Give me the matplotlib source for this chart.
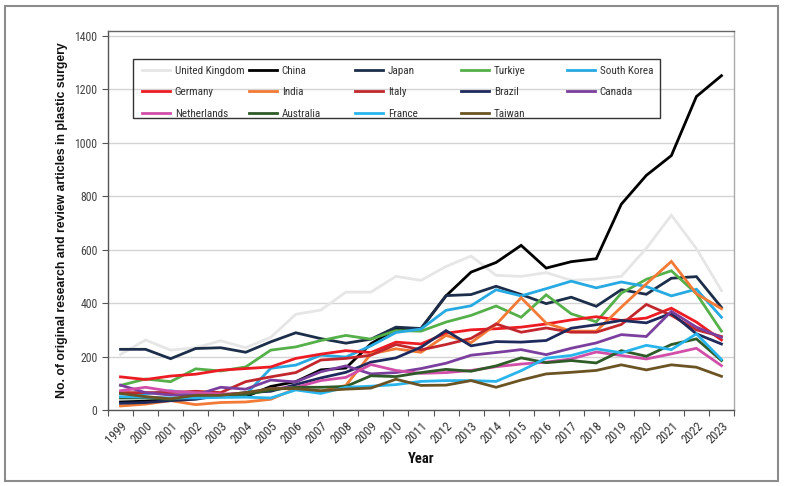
import matplotlib
matplotlib.use('Agg')
import matplotlib.pyplot as plt
import matplotlib.font_manager as fm
from matplotlib.patches import Rectangle
from matplotlib.legend import Legend
import numpy as np

# ── Fonts: condensed face for ticks/legend, plain sans bold for y label ──
names = {f.name for f in fm.fontManager.ttflist}
NARROW = next((f for f in ['Liberation Sans Narrow', 'Roboto Condensed',
                           'Open Sans Condensed', 'DejaVu Sans Condensed',
                           'Liberation Sans'] if f in names), 'DejaVu Sans')
SANS = 'Liberation Sans' if 'Liberation Sans' in names else 'DejaVu Sans'
plt.rcParams['font.family'] = [NARROW, 'DejaVu Sans']

# ── Data ──────────────────────────────────────────────────────────────────
years = list(range(1999, 2024))

uk          = [208, 262, 224, 233, 259, 233, 272, 358, 374, 441, 441, 500, 485,
               537, 576, 504, 500, 514, 485, 490, 500, 605, 729, 604, 447]
china       = [30, 33, 38, 50, 55, 50, 88, 106, 150, 157, 248, 302, 304,
               427, 516, 552, 616, 531, 555, 566, 770, 878, 952, 1173, 1251]
japan       = [227, 227, 192, 230, 233, 216, 255, 289, 267, 250, 265, 310, 305,
               428, 432, 463, 432, 398, 422, 388, 450, 433, 493, 499, 384]
turkiye     = [92, 116, 106, 154, 146, 161, 224, 236, 260, 279, 265, 297, 295,
               329, 354, 389, 347, 431, 360, 330, 437, 489, 521, 435, 295]
south_korea = [62, 60, 72, 60, 55, 58, 156, 168, 205, 198, 240, 290, 303,
               373, 390, 450, 427, 454, 482, 457, 479, 462, 427, 452, 347]
germany     = [124, 114, 127, 134, 149, 155, 161, 193, 209, 222, 215, 254, 247,
               287, 300, 304, 310, 322, 337, 349, 335, 344, 381, 329, 262]
india       = [15, 22, 35, 20, 28, 30, 40, 80, 70, 92, 210, 229, 216,
               279, 252, 320, 420, 325, 295, 295, 385, 472, 556, 435, 379]
italy       = [65, 65, 65, 70, 65, 106, 124, 140, 187, 193, 205, 245, 225,
               245, 268, 322, 291, 307, 291, 291, 320, 395, 354, 300, 275]
brazil      = [25, 28, 35, 40, 55, 65, 70, 95, 120, 141, 179, 195, 235,
               297, 240, 256, 254, 260, 306, 319, 335, 326, 362, 285, 247]
canada      = [93, 65, 56, 56, 85, 78, 112, 105, 143, 165, 135, 140, 155,
               175, 205, 215, 226, 207, 231, 251, 282, 275, 369, 310, 272]
netherlands = [72, 85, 70, 65, 60, 62, 80, 85, 110, 122, 170, 148, 137,
               140, 148, 162, 172, 179, 191, 217, 204, 191, 210, 231, 166]
australia   = [45, 45, 40, 50, 55, 58, 75, 85, 85, 88, 128, 125, 140,
               152, 145, 165, 195, 177, 185, 176, 222, 201, 245, 266, 185]
france      = [50, 48, 45, 45, 47, 48, 45, 75, 62, 85, 89, 95, 107,
               110, 110, 107, 147, 194, 204, 229, 214, 242, 226, 285, 189]
taiwan      = [62, 50, 42, 55, 55, 65, 80, 80, 72, 78, 82, 115, 92,
               93, 110, 85, 112, 135, 141, 148, 169, 150, 169, 160, 126]

# label, values, colour  (row-wise legend order of the reference)
series = [
    ("United Kingdom", uk,          "#e6e6e6"),
    ("China",          china,       "#000000"),
    ("Japan",          japan,       "#1c2e4a"),
    ("Turkiye",        turkiye,     "#55b04a"),
    ("South Korea",    south_korea, "#27a9e1"),
    ("Germany",        germany,     "#ed1c24"),
    ("India",          india,       "#f37a36"),
    ("Italy",          italy,       "#c1272d"),
    ("Brazil",         brazil,      "#1f2a5c"),
    ("Canada",         canada,      "#7b3f9e"),
    ("Netherlands",    netherlands, "#d14fa8"),
    ("Australia",      australia,   "#2e5b27"),
    ("France",         france,      "#29b5ec"),
    ("Taiwan",         taiwan,      "#6b5323"),
]

# ── Figure ────────────────────────────────────────────────────────────────
fig = plt.figure(figsize=(7.86, 4.86), dpi=100, facecolor='white')
ax = fig.add_axes([0.1374, 0.1564, 0.7964, 0.7808])

x = np.arange(len(years))
handles = []
for label, vals, col in series:
    ln, = ax.plot(x, vals, color=col, lw=2.0, solid_joinstyle='miter',
                  label=label, zorder=3)
    handles.append(ln)

ax.set_xlim(-0.5, len(years) - 0.5)
ax.set_ylim(0, 1420)

# tick marks on category boundaries, labels centred on the years
ax.set_xticks(np.arange(-0.5, len(years)), [''] * (len(years) + 1))
ax.set_xticks(x, [str(y) for y in years], minor=True)
ax.tick_params(axis='x', which='major', length=4, width=0.8, color='#555555')
ax.tick_params(axis='x', which='minor', length=0, pad=7, labelsize=9,
               labelcolor='#333333')
for lbl in ax.get_xticklabels(minor=True):
    lbl.set_rotation(45)
    lbl.set_ha('right')
    lbl.set_va('top')
    lbl.set_rotation_mode('anchor')

ax.set_yticks(np.arange(0, 1401, 200))
ax.tick_params(axis='y', length=4.5, width=0.8, color='#555555',
               labelsize=8.5, labelcolor='#444444', pad=3)

ax.yaxis.grid(True, color='#d4d4d4', lw=1.0, zorder=0)
ax.set_axisbelow(True)
ax.spines['left'].set_color('#555555')
ax.spines['bottom'].set_color('#555555')
ax.spines['top'].set_color('#666666')
ax.spines['right'].set_color('#aaaaaa')
for sp in ax.spines.values():
    sp.set_linewidth(1.0)

ax.set_ylabel('No. of original research and review articles in plastic surgery',
              family=[SANS, 'DejaVu Sans'], fontweight='bold', fontsize=8.8,
              color='#111111', labelpad=5)
ax.set_xlabel('Year', fontweight='bold', fontsize=10.5, color='#111111',
              labelpad=4)

# legend: one frameless legend per column (equal column pitch), one box
col_x = [0.0543, 0.2252, 0.3946, 0.5639, 0.7332]
for c, cx in enumerate(col_x):
    idx = list(range(c, len(series), 5))
    lg = Legend(ax, [handles[i] for i in idx], [series[i][0] for i in idx],
                loc='upper left', bbox_to_anchor=(cx, 0.907),
                borderaxespad=0, borderpad=0, frameon=False, fontsize=8,
                handlelength=2.5, handletextpad=0.45, labelspacing=1.04,
                labelcolor='#333333')
    ax.add_artist(lg)
ax.add_patch(Rectangle((0.0399, 0.7694), 0.8419, 0.1555, transform=ax.transAxes,
                       fill=False, edgecolor='#333333', lw=1.0, zorder=5))

# outer grey border
fig.patches.append(Rectangle((0.006, 0.01), 0.984, 0.978,
                             transform=fig.transFigure, fill=False,
                             edgecolor='#8c8c8c', lw=1.5))

plt.savefig('out.png', dpi=100, facecolor='white')
plt.close()
